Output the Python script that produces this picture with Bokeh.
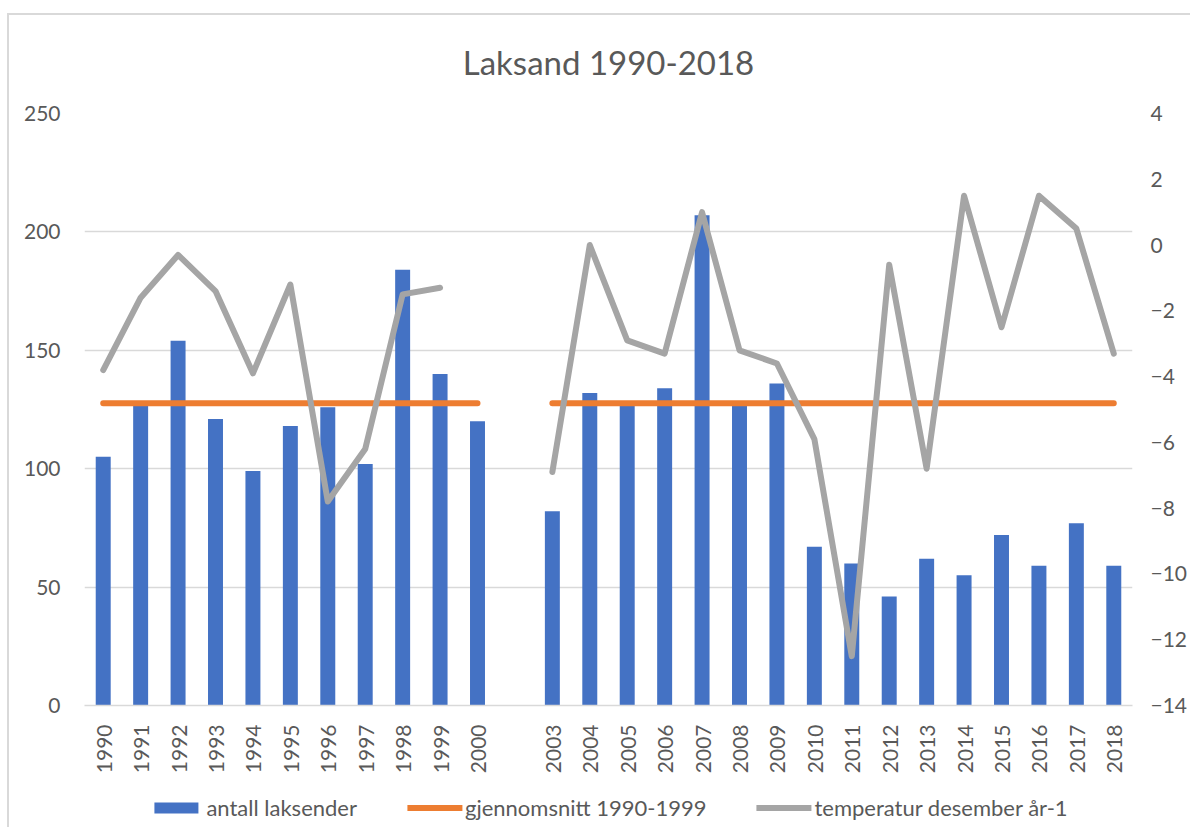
import math
from bokeh.plotting import figure
from bokeh.layouts import column
from bokeh.models import (ColumnDataSource, FactorRange, Range1d, LinearAxis,
                          Legend, LegendItem, FixedTicker, Title)
from bokeh.embed import file_html
from bokeh.resources import INLINE

years = ["1990", "1991", "1992", "1993", "1994", "1995", "1996", "1997", "1998", "1999", "2000",
         " ",
         "2003", "2004", "2005", "2006", "2007", "2008", "2009", "2010", "2011", "2012", "2013",
         "2014", "2015", "2016", "2017", "2018"]
laksender = [105, 127, 154, 121, 99, 118, 126, 102, 184, 140, 120,
             float("nan"),
             82, 132, 127, 134, 207, 127, 136, 67, 60, 46, 62, 55, 72, 59, 77, 59]
gjennomsnitt = [127.6] * 11 + [float("nan")] + [127.6] * 16
temperatur = [-3.8, -1.6, -0.3, -1.4, -3.9, -1.2, -7.8, -6.2, -1.5, -1.3, float("nan"),
              float("nan"),
              -6.9, 0.0, -2.9, -3.3, 1.0, -3.2, -3.6, -5.9, -12.5, -0.6, -6.8,
              1.5, -2.5, 1.5, 0.5, -3.3]
left_ticks = [0, 50, 100, 150, 200, 250]
right_ticks = [-14, -12, -10, -8, -6, -4, -2, 0, 2, 4]
series_names = ["antall laksender", "gjennomsnitt 1990-1999", "temperatur desember år-1"]

FONT = "Lato"
TXT = "#595959"
GRID = "#D9D9D9"
BLUE, ORANGE, GRAY = "#4472C4", "#ED7D31", "#A5A5A5"

src = ColumnDataSource(dict(x=years, bars=laksender, avg=gjennomsnitt, temp=temperatur))

W = 1190
p = figure(width=W, height=787, x_range=FactorRange(*years, range_padding=0),
           y_range=Range1d(0, 250), output_backend="svg", toolbar_location=None,
           min_border_left=84, min_border_right=50, min_border_top=113, min_border_bottom=82)
p.extra_y_ranges = {"temp": Range1d(-14, 4)}

p.title = Title(text="Laksand 1990-2018", align="center", text_font=FONT,
                text_font_size="33px", text_color=TXT, text_font_style="normal",
                standoff=63)

p.border_fill_alpha = 0
p.background_fill_alpha = 0
p.outline_line_color = None
p.xgrid.grid_line_color = None
p.ygrid.grid_line_color = GRID
p.ygrid.grid_line_width = 1.5
p.ygrid.ticker = FixedTicker(ticks=left_ticks)

yax = p.yaxis[0]
yax.ticker = FixedTicker(ticks=left_ticks)
yax.axis_line_color = None
yax.major_tick_line_color = None
yax.minor_tick_line_color = None
yax.major_label_text_font = FONT
yax.major_label_text_font_size = "21px"
yax.major_label_text_color = TXT
yax.major_label_standoff = 18

rax = LinearAxis(y_range_name="temp", ticker=FixedTicker(ticks=right_ticks))
rax.axis_line_color = None
rax.major_tick_line_color = None
rax.minor_tick_line_color = None
rax.major_label_text_font = FONT
rax.major_label_text_font_size = "21px"
rax.major_label_text_color = TXT
rax.major_label_standoff = 12
p.add_layout(rax, "right")

xax = p.xaxis[0]
xax.axis_line_color = GRID
xax.axis_line_width = 1.5
xax.major_tick_line_color = None
xax.minor_tick_line_color = None
xax.major_label_orientation = math.pi / 2
xax.major_label_text_font = FONT
xax.major_label_text_font_size = "21px"
xax.major_label_text_color = TXT
xax.major_label_standoff = 13

p.vbar(x="x", top="bars", width=0.4, source=src, fill_color=BLUE, line_color=None)
p.line(x="x", y="avg", source=src, line_color=ORANGE, line_width=6,
       line_cap="round", line_join="round")
p.line(x="x", y="temp", source=src, y_range_name="temp", line_color=GRAY,
       line_width=6, line_cap="round", line_join="round")

# legend strip: same series drawn into a strip whose y-range hides them,
# so only their legend swatches are visible
q = figure(width=W, height=40, x_range=FactorRange(*years), y_range=Range1d(1000, 1001),
           output_backend="svg", toolbar_location=None,
           min_border_left=22, min_border_right=0, min_border_top=0, min_border_bottom=0)
q.axis.visible = False
q.grid.visible = False
q.outline_line_color = None
q.border_fill_alpha = 0
q.background_fill_alpha = 0
lb = q.vbar(x="x", top="bars", width=0.4, source=src, fill_color=BLUE, line_color=None)
la = q.line(x="x", y="avg", source=src, line_color=ORANGE, line_width=6, line_cap="round")
lt = q.line(x="x", y="temp", source=src, line_color=GRAY, line_width=6, line_cap="round")

legend = Legend(items=[LegendItem(label=series_names[0], renderers=[lb]),
                       LegendItem(label=series_names[1], renderers=[la]),
                       LegendItem(label=series_names[2], renderers=[lt])],
                orientation="horizontal", location="center",
                label_text_font=FONT, label_text_font_size="22px", label_text_color=TXT,
                glyph_width=55, glyph_height=14, label_standoff=3, spacing=50,
                border_line_color=None, background_fill_alpha=0, padding=0, margin=0)
q.add_layout(legend, "center")

layout = column(p, q, spacing=0)
layout.styles = {
    "background-image": "linear-gradient(#D9D9D9,#D9D9D9), linear-gradient(#D9D9D9,#D9D9D9)",
    "background-size": "2px 100%, 100% 2px",
    "background-position": "7px 13px, 7px 13px",
    "background-repeat": "no-repeat",
}

open("out.html", "w").write(file_html(layout, INLINE))
